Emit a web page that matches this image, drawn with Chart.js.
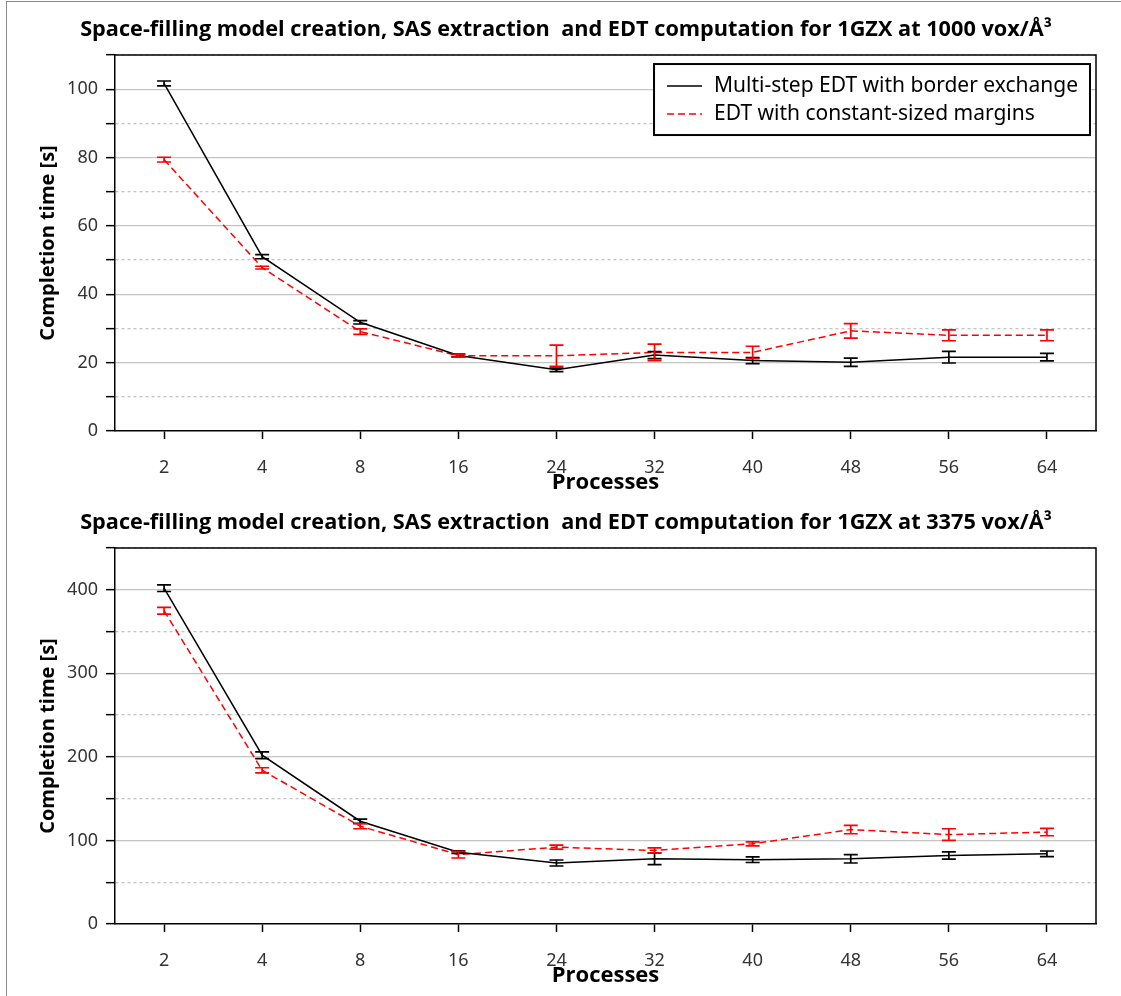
<!DOCTYPE html>
<html>
<head>
<meta charset="utf-8">
<script src="https://cdn.jsdelivr.net/npm/chart.js@4.4.1/dist/chart.umd.min.js"></script>
<style>
  html, body { margin: 0; padding: 0; background: #fff; }
  #wrap { position: relative; width: 1121px; height: 996px; overflow: hidden; }
  #frame { position: absolute; left: 6px; top: 1px; width: 1200px; height: 1100px;
           border-left: 1px solid #8a8a8a; border-top: 1px solid #8a8a8a; }
  .box { position: absolute; left: 0; width: 1121px; height: 493px; }
</style>
</head>
<body>
<div id="wrap">
  <div id="frame"></div>
  <div class="box" style="top:0"><canvas id="chart1000"></canvas></div>
  <div class="box" style="top:493px"><canvas id="chart3375"></canvas></div>
</div>
<script>
// x categories
const processes = ['2', '4', '8', '16', '24', '32', '40', '48', '56', '64'];

// 1000 vox/Å³
const multi1000      = [101.7, 51.0, 31.8, 22.1, 17.9, 22.2, 20.6, 20.1, 21.6, 21.6];
const multi1000Err   = [0.7, 0.6, 0.5, 0.4, 0.5, 1.0, 0.9, 1.2, 1.7, 1.1];
const margins1000    = [79.4, 47.8, 29.1, 22.0, 22.0, 23.0, 23.0, 29.3, 28.0, 28.0];
const margins1000Err = [0.7, 0.4, 0.8, 0.4, 3.1, 2.4, 1.8, 2.1, 1.6, 1.6];

// 3375 vox/Å³
const multi3375      = [402, 202, 123, 86, 73, 78, 77, 78, 82, 84];
const multi3375Err   = [4, 4, 2.5, 1.5, 3.6, 7, 3.4, 5, 4.4, 3.4];
const margins3375    = [375, 184, 117, 83, 92, 88, 96, 113, 107, 110];
const margins3375Err = [4, 3, 3, 4, 2.4, 3, 2.4, 5, 7, 4.4];

const seriesNames = ['Multi-step EDT with border exchange', 'EDT with constant-sized margins'];

const tickFont = { family: '"Noto Sans", sans-serif', size: 18 };

// vertical error bars with caps
const errorBars = {
  id: 'errorBars',
  afterDatasetsDraw(chart) {
    const ctx = chart.ctx;
    const y = chart.scales.y;
    chart.data.datasets.forEach((ds, i) => {
      const meta = chart.getDatasetMeta(i);
      ctx.save();
      ctx.strokeStyle = ds.borderColor;
      ctx.lineWidth = 1.7;
      meta.data.forEach((pt, j) => {
        const top = y.getPixelForValue(ds.data[j] + ds.errors[j]);
        const bot = y.getPixelForValue(ds.data[j] - ds.errors[j]);
        ctx.beginPath();
        ctx.moveTo(pt.x, top); ctx.lineTo(pt.x, bot);
        ctx.moveTo(pt.x - 7, top); ctx.lineTo(pt.x + 7, top);
        ctx.moveTo(pt.x - 7, bot); ctx.lineTo(pt.x + 7, bot);
        ctx.stroke();
      });
      ctx.restore();
    });
  }
};

// top + right sides of the plot box
const plotFrame = {
  id: 'plotFrame',
  afterDraw(chart) {
    const { ctx, chartArea: a } = chart;
    ctx.save();
    ctx.strokeStyle = '#000';
    ctx.lineWidth = 1.5;
    ctx.beginPath();
    ctx.moveTo(a.left, a.top); ctx.lineTo(a.right, a.top); ctx.lineTo(a.right, a.bottom);
    ctx.stroke();
    ctx.restore();
  }
};

// boxed legend inside the upper-right corner
const boxLegend = {
  id: 'boxLegend',
  afterDraw(chart, args, opts) {
    if (!opts.display) return;
    const { ctx, chartArea: a } = chart;
    const dss = chart.data.datasets;
    ctx.save();
    ctx.font = '21px "Noto Sans", sans-serif';
    const textW = Math.max(...dss.map(d => ctx.measureText(d.label).width));
    const w = 13 + 35 + 12 + textW + 12;
    const h = 71;
    const x0 = a.right - 6 - w, y0 = a.top + 9;
    ctx.fillStyle = '#fff';
    ctx.fillRect(x0, y0, w, h);
    ctx.strokeStyle = '#000';
    ctx.lineWidth = 2;
    ctx.strokeRect(x0, y0, w, h);
    dss.forEach((d, i) => {
      const yy = y0 + 22 + i * 28;
      ctx.strokeStyle = d.borderColor;
      ctx.lineWidth = 1.5;
      ctx.setLineDash(d.borderDash || []);
      ctx.beginPath();
      ctx.moveTo(x0 + 13, yy); ctx.lineTo(x0 + 48, yy);
      ctx.stroke();
      ctx.setLineDash([]);
      ctx.fillStyle = '#000';
      ctx.textBaseline = 'middle';
      ctx.fillText(d.label, x0 + 60, yy);
    });
    ctx.restore();
  }
};

function makeChart(id, title, blackData, blackErr, redData, redErr, yMax, yStep, showLegend) {
  return new Chart(document.getElementById(id), {
    type: 'line',
    data: {
      labels: processes,
      datasets: [{
        label: seriesNames[0],
        data: blackData,
        errors: blackErr,
        borderColor: '#000',
        borderWidth: 1.5,
        pointRadius: 0,
        tension: 0
      }, {
        label: seriesNames[1],
        data: redData,
        errors: redErr,
        borderColor: '#ff0000',
        borderWidth: 1.5,
        borderDash: [7, 4],
        pointRadius: 0,
        tension: 0
      }]
    },
    options: {
      responsive: true,
      maintainAspectRatio: false,
      animation: false,
      layout: { padding: { left: 36, right: 25, top: 0, bottom: 0 } },
      plugins: {
        legend: { display: false },
        tooltip: { enabled: false },
        title: {
          display: true,
          text: title,
          color: '#000',
          font: { family: '"Open Sans", sans-serif', size: 21.7, weight: 'bold' },
          padding: { top: 17, bottom: 12 }
        },
        boxLegend: { display: showLegend }
      },
      scales: {
        x: {
          offset: true,
          afterFit(s) { s.height = 62; },
          ticks: { color: '#333', font: tickFont, padding: 18, autoSkip: false, maxRotation: 0 },
          grid: { drawOnChartArea: false, tickLength: 8, tickColor: '#000', tickWidth: 1.5 },
          border: { color: '#000', width: 1.5 },
          title: {
            display: true, text: 'Processes', color: '#000',
            font: { family: '"Open Sans", sans-serif', size: 22, weight: 'bold', lineHeight: 1 },
            padding: { top: 0, bottom: -1 }
          }
        },
        y: {
          min: 0,
          max: yMax,
          afterFit(s) { s.width = 79; },
          ticks: {
            stepSize: yStep,
            color: '#333',
            font: tickFont,
            padding: 8,
            callback: v => (v % (2 * yStep) === 0 ? v : '')
          },
          grid: {
            color: c => (c.tick && c.tick.value > 0 ? '#c4c4c4' : 'rgba(0,0,0,0)'),
            lineWidth: 1.3,
            tickLength: 9,
            tickColor: '#000',
            tickWidth: 1.5
          },
          border: {
            color: '#000',
            width: 1.5,
            dash: c => (c.tick && c.tick.value % (2 * yStep) !== 0 ? [3, 3] : [])
          },
          title: {
            display: true, text: 'Completion time [s]', color: '#000',
            font: { family: '"Open Sans", sans-serif', size: 20, weight: 'bold' },
            padding: 0
          }
        }
      }
    },
    plugins: [errorBars, plotFrame, boxLegend]
  });
}

makeChart('chart1000', 'Space-filling model creation, SAS extraction  and EDT computation for 1GZX at 1000 vox/Å³',
  multi1000, multi1000Err, margins1000, margins1000Err, 110, 10, true);
makeChart('chart3375', 'Space-filling model creation, SAS extraction  and EDT computation for 1GZX at 3375 vox/Å³',
  multi3375, multi3375Err, margins3375, margins3375Err, 450, 50, false);
</script>
</body>
</html>
